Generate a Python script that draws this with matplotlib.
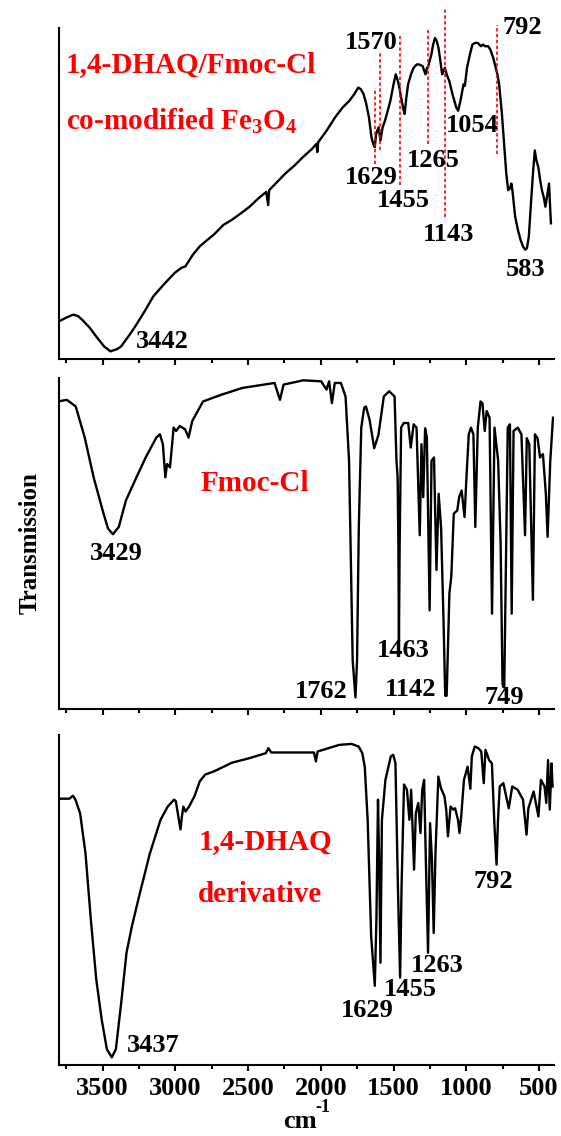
import numpy as np
import matplotlib
matplotlib.use('Agg')
import matplotlib.pyplot as plt
from matplotlib.ticker import MultipleLocator

plt.rcParams['font.family'] = ['Liberation Serif', 'DejaVu Serif']
plt.rcParams['font.weight'] = 'bold'

# ---- panel 1: 1,4-DHAQ/Fmoc-Cl co-modified Fe3O4 ----
wn1 = [3800, 3750, 3703, 3670, 3642, 3590, 3544, 3490, 3446, 3400, 3373, 3320, 3275, 3210,
       3152, 3080, 3005, 2960, 2931, 2880, 2833, 2780, 2735, 2670, 2613, 2550, 2490, 2430,
       2375, 2362, 2355, 2300, 2245, 2180, 2123, 2060, 2030, 2024, 2018, 1960, 1902, 1850,
       1804, 1770, 1743, 1725, 1706, 1690, 1669, 1652, 1640, 1629, 1620, 1603, 1590, 1575,
       1559, 1540, 1522, 1500, 1485, 1470, 1460, 1448, 1435, 1424, 1412, 1400, 1380, 1362,
       1340, 1326, 1300, 1289, 1280, 1270, 1264, 1252, 1240, 1228, 1215, 1203, 1191, 1178,
       1166, 1157, 1147, 1135, 1117, 1095, 1069, 1056, 1040, 1019, 1010, 1000, 995, 975,
       958, 940, 921, 900, 885, 872, 850, 835, 815, 798, 786, 774, 755, 737, 725, 712, 700,
       690, 683, 664, 645, 627, 610, 595, 583, 570, 554, 540, 529, 518, 505, 492, 480, 468,
       456, 445, 431, 425, 418]
t1 = [11.4, 12.5, 13.4, 13.0, 11.9, 9.5, 6.8, 3.8, 2.3, 3.0, 3.8, 7.0, 9.9, 14.5,
      18.9, 22.5, 26, 27.5, 28, 31.5, 34, 36, 37.6, 40.5, 42, 44, 46, 48.5,
      50.5, 46.5, 51, 53.5, 56, 58.5, 61, 63.5, 65, 62.5, 65.5, 69, 73, 76,
      78, 80, 82, 81.5, 80, 77.5, 73, 67, 65, 64, 68, 70, 66, 70,
      72, 75, 78, 83, 86, 84, 82, 79, 76, 74, 79, 83, 86, 88,
      89, 89, 88.5, 87, 86, 88, 88, 90, 92, 95, 97, 96, 94, 90,
      86, 87, 88, 86, 84, 80, 76, 75, 78, 83, 82.5, 86, 88, 92,
      95, 95.5, 95.5, 94.5, 95, 94.5, 94.5, 93.5, 91, 88, 86, 83, 74, 63, 56, 51, 51.5,
      53, 51, 43, 39, 36, 34, 33, 33.5, 37, 48, 57, 63, 60, 58, 54, 51, 49,
      46, 49, 53, 47, 41]

# ---- panel 2: Fmoc-Cl ----
wn2 = [3796, 3746, 3685, 3623, 3562, 3500, 3463, 3429, 3389, 3340, 3278, 3204, 3131, 3106,
       3086, 3069, 3057, 3037, 3012, 2995, 2970, 2933, 2909, 2884, 2810, 2687, 2539, 2392,
       2318, 2281, 2256, 2121, 1998, 1961, 1943, 1924, 1904, 1862, 1830, 1806, 1781, 1762,
       1751, 1739, 1722, 1702, 1690, 1665, 1633, 1604, 1567, 1530, 1493, 1480, 1472, 1467,
       1463, 1458, 1448, 1430, 1399, 1382, 1362, 1342, 1320, 1308, 1296, 1283, 1271, 1252,
       1239, 1222, 1205, 1190, 1173, 1156, 1145, 1135, 1116, 1103, 1086, 1062, 1049, 1032,
       1012, 1000, 983, 968, 951, 938, 921, 902, 889, 873, 860, 840, 823, 806, 781, 764,
       751, 745, 739, 724, 715, 700, 688, 675, 646, 621, 596, 584, 567, 542, 528, 510, 493,
       473, 453, 441, 423, 404]
t2 = [93, 93.4, 91.4, 82, 70, 60, 54.5, 52.8, 55, 63, 69, 76, 82, 83,
      80, 70, 74, 73, 85, 84, 85.5, 84.5, 82, 87, 92.9, 94.9, 97, 98,
      98.5, 93.4, 98, 99.3, 99, 96.5, 99, 92.4, 98.5, 98.5, 94.4, 75, 14.6, 3.5,
      14.6, 55, 85, 91, 91.4, 87.4, 78.8, 82.8, 94.4, 96, 94.4, 75, 70, 50,
      20.5, 50, 85, 86.4, 86.4, 79, 86, 85, 52.5, 80, 64, 84.8, 82, 29.8,
      75, 76, 42, 65, 54.5, 25.8, 4, 4, 35, 40, 59, 60, 64, 66,
      58, 69, 83, 85, 83, 55, 85, 92.9, 92.4, 84, 90, 88, 28.8, 85, 75, 50,
      7.6, 6.6, 6.6, 55, 85, 86, 28.8, 84, 85, 83, 52.5, 81.8, 80, 33, 83, 81.8, 76,
      77, 65, 52, 74.7, 88]

# ---- panel 3: 1,4-DHAQ derivative ----
wn3 = [3795, 3728, 3704, 3687, 3655, 3618, 3581, 3544, 3507, 3471, 3437, 3409, 3372, 3336,
       3299, 3250, 3176, 3102, 3053, 3009, 2997, 2965, 2955, 2945, 2930, 2906, 2869, 2832,
       2795, 2734, 2611, 2489, 2378, 2361, 2341, 2243, 2047, 2034, 2022, 1948, 1874, 1789,
       1740, 1715, 1698, 1678, 1654, 1629, 1618, 1607, 1600, 1590, 1580, 1556, 1519, 1502,
       1487, 1470, 1455, 1445, 1428, 1408, 1391, 1379, 1359, 1347, 1330, 1315, 1303, 1290,
       1278, 1263, 1249, 1236, 1224, 1212, 1192, 1175, 1150, 1138, 1126, 1108, 1089, 1077,
       1057, 1047, 1035, 1016, 991, 972, 962, 942, 917, 897, 880, 868, 843, 824, 807, 792,
       782, 770, 745, 726, 708, 684, 647, 610, 586, 573, 537, 504, 487, 462, 450, 438, 426,
       414, 407]
t3 = [80.7, 80.7, 81.6, 80.4, 76.3, 64.2, 44, 26, 13.9, 4.8, 2.3, 4.8, 19, 34,
      42, 51, 64, 74.3, 78.3, 80.4, 80, 71.4, 75.3, 78.3, 76.8, 78.3, 81.4, 86,
      88, 89, 91.6, 93, 94.5, 96, 94.7, 94.7, 94.7, 92, 95, 96, 97, 97.3,
      96.5, 94.5, 90.4, 74.3, 39, 24, 44, 80.4, 64, 31, 74.3, 86.4, 93.5, 94,
      91.4, 54, 26.5, 54, 85, 83.4, 74.3, 83.4, 59.2, 76.3, 79.4, 70.3, 83.4, 86.4,
      62, 34, 73.3, 62, 40, 64, 87.4, 84, 81.4, 77.4, 69.3, 78.3, 77.4, 77.8,
      74.3, 70.3, 75.3, 86.4, 90.4, 83.7, 93.5, 96.5, 96, 95, 85.4, 95.5, 92.4, 91.4, 73.3, 60.7,
      74.3, 84.4, 85.4, 81.4, 77.8, 84.4, 83.4, 80.4, 69.8, 77.8, 82.9, 75.3, 86.4, 84.4, 79.4, 92.4, 77.4,
      91.4, 84.4]

# peak labels: (text, wavenumber, level)
peaks1 = [('1570', 1655, 95.5), ('1629', 1655, 54.7), ('1455', 1431, 48), ('1265', 1228, 60),
          ('1143', 1123, 37.5), ('1054', 958, 70.5), ('792', 615, 100), ('583', 591, 27),
          ('3442', 3091, 5.3)]
peaks2 = [('3429', 3406, 47), ('1762', 1998, 5.3), ('1463', 1436, 17.7), ('1142', 1382, 6),
          ('749', 741, 3.5)]
peaks3 = [('3437', 3151, 6), ('1629', 1683, 16.6), ('1455', 1384, 23), ('1263', 1200, 30),
          ('792', 814, 55.5)]

# red dashed marker lines in panel 1: (wavenumber, bottom, top)
marks1 = [(1629, 59, 82), (1595, 63, 93), (1455, 52.7, 97.5), (1265, 65, 99.5),
          (1143, 43, 105.7), (792, 62, 101)]

W, H = 561, 1136
boxes = [(28, 359), (378, 709), (735, 1065)]
left, right = 59, 554

fig = plt.figure(figsize=(W / 100, H / 100), dpi=100)
axes = []
for top, bot in boxes:
    ax = fig.add_axes([left / W, 1 - bot / H, (right - left) / W, (bot - top) / H])
    ax.set_xlim(3800, 397)
    ax.set_ylim(0, 100)
    ax.spines['top'].set_visible(False)
    ax.spines['right'].set_visible(False)
    ax.spines['left'].set_linewidth(1.5)
    ax.spines['bottom'].set_linewidth(1.5)
    ax.set_yticks([])
    ax.xaxis.set_major_locator(MultipleLocator(500))
    ax.xaxis.set_minor_locator(MultipleLocator(250))
    ax.tick_params(axis='x', which='major', direction='out', length=4.5, width=1.5,
                   labelsize=19, pad=4)
    ax.tick_params(axis='x', which='minor', direction='out', length=3, width=1.5)
    axes.append(ax)

ax1, ax2, ax3 = axes
ax1.tick_params(axis='x', labelbottom=False)
ax2.tick_params(axis='x', labelbottom=False)

for ax, wn, t, peaks in [(ax1, wn1, t1, peaks1), (ax2, wn2, t2, peaks2), (ax3, wn3, t3, peaks3)]:
    ax.plot(wn, t, color='black', lw=1.7)
    for txt, x, y in peaks:
        ax.text(x, y, txt, ha='center', va='center', fontsize=19, fontweight='bold')

for x, y0, y1 in marks1:
    ax1.plot([x, x], [y0, y1], color='red', lw=1.2, ls=(0, (2, 1.5)), clip_on=False)

red = '#ff0000'
ax1.text(3752, 89, '1,4-DHAQ/Fmoc-Cl', color=red, fontsize=21, fontweight='bold',
         ha='left', va='center')
ax1.text(3752, 72, r'co-modified Fe$_{\mathregular{3}}$O$_{\mathregular{4}}$', color=red,
         fontsize=21, fontweight='bold', ha='left', va='center')
ax2.text(2453, 68, 'Fmoc-Cl', color=red, fontsize=21, fontweight='bold',
         ha='center', va='center')
ax3.text(2842, 67.8, '1,4-DHAQ', color=red, fontsize=21, fontweight='bold',
         ha='left', va='center')
ax3.text(2842, 51.7, 'derivative', color=red, fontsize=21, fontweight='bold',
         ha='left', va='center')

# x label "cm-1" with a plain hyphen in the superscript
ax3.text(0.487, -0.172, 'cm', transform=ax3.transAxes, fontsize=19, fontweight='bold',
         ha='center', va='center')
ax3.text(0.532, -0.128, '-1', transform=ax3.transAxes, fontsize=13, fontweight='bold',
         ha='center', va='center')
fig.text(30 / W, 1 - 543 / H, 'Transmission', rotation=90, fontsize=18,
         fontweight='bold', ha='center', va='center')

fig.savefig('out.png', dpi=100)
